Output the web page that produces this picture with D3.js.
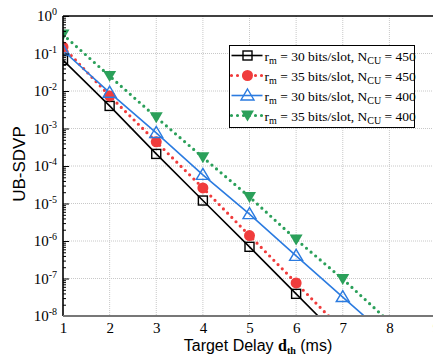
<!DOCTYPE html>
<html>
<head>
<meta charset="utf-8">
<script src="https://cdn.jsdelivr.net/npm/d3@7/dist/d3.min.js"></script>
<style>
  body { margin: 0; background: #fff; }
  svg { display: block; }
</style>
</head>
<body>
<div id="chart"></div>
<script>
// delays (ms)
const delays = [1, 2, 3, 4, 5, 6, 7, 8];

// UB-SDVP per configuration
const seriesA = [0.067, 4.0e-3, 2.1e-4, 1.2e-5, 7.0e-7, 3.9e-8];            // rm=30, NCU=450
const seriesB = [0.15, 7.4e-3, 4.4e-4, 2.6e-5, 1.4e-6, 7.6e-8];             // rm=35, NCU=450
const seriesC = [0.12, 9.0e-3, 7.6e-4, 5.8e-5, 5.2e-6, 4.0e-7, 3.2e-8];     // rm=30, NCU=400
const seriesD = [0.32, 0.025, 2.0e-3, 1.7e-4, 1.5e-5, 1.1e-6, 9.7e-8, 7.0e-9]; // rm=35, NCU=400

const xTicks = [1, 2, 3, 4, 5, 6, 7, 8, 9];
const yExponents = [0, -1, -2, -3, -4, -5, -6, -7, -8];

const legendRm = ['30', '35', '30', '35'];
const legendNcu = ['450', '450', '400', '400'];

const width = 433, height = 356;
const margin = { top: 16, right: -3, bottom: 40, left: 63 };
const innerW = width - margin.left - margin.right;
const innerH = height - margin.top - margin.bottom;

const svg = d3.select('#chart').append('svg')
  .attr('width', width)
  .attr('height', height);

const x = d3.scaleLinear().domain([1, 9]).range([0, innerW]);
const y = d3.scaleLog().domain([1e-8, 1]).range([innerH, 0]);

const g = svg.append('g')
  .attr('transform', 'translate(' + margin.left + ',' + margin.top + ')');

svg.append('defs').append('clipPath').attr('id', 'plotclip')
  .append('rect').attr('x', 0).attr('y', 0).attr('width', innerW).attr('height', innerH + 1);

// grid
g.selectAll('.gx').data(xTicks.slice(1)).enter().append('line')
  .attr('x1', d => x(d)).attr('x2', d => x(d))
  .attr('y1', 0).attr('y2', innerH)
  .attr('stroke', '#c8c8c8').attr('stroke-width', 1).attr('stroke-dasharray', '1,1');
g.selectAll('.gy').data(yExponents.slice(1, -1)).enter().append('line')
  .attr('x1', 0).attr('x2', innerW)
  .attr('y1', d => y(Math.pow(10, d))).attr('y2', d => y(Math.pow(10, d)))
  .attr('stroke', '#c8c8c8').attr('stroke-width', 1).attr('stroke-dasharray', '1,1');

const series = [
  { values: seriesA, color: '#000000', dash: null, width: 1.6, marker: 'square' },
  { values: seriesB, color: '#f03c3c', dash: '0,6', width: 3.2, marker: 'circle' },
  { values: seriesC, color: '#2b7be0', dash: null, width: 1.6, marker: 'tri' },
  { values: seriesD, color: '#2ba05a', dash: '0,6', width: 3.2, marker: 'itri' }
];

// extend each line by one step along its last slope so it reaches the bottom
function extended(vals) {
  const pts = vals.map((v, i) => [delays[i], v]);
  const n = pts.length;
  const r = pts[n - 1][1] / pts[n - 2][1];
  pts.push([pts[n - 1][0] + 1, pts[n - 1][1] * r]);
  return pts;
}

const plot = g.append('g').attr('clip-path', 'url(#plotclip)');

const line = d3.line().x(d => x(d[0])).y(d => y(d[1]));

series.forEach(s => {
  plot.append('path')
    .datum(extended(s.values))
    .attr('d', line)
    .attr('fill', 'none')
    .attr('stroke', s.color)
    .attr('stroke-width', s.width)
    .attr('stroke-linecap', s.dash ? 'round' : 'butt')
    .attr('stroke-dasharray', s.dash);
});

function drawMarker(sel, type, color, cx, cy) {
  if (type === 'square') {
    sel.append('rect').attr('x', cx - 4.5).attr('y', cy - 4.5).attr('width', 9).attr('height', 9)
      .attr('fill', 'none').attr('stroke', color).attr('stroke-width', 1.4);
  } else if (type === 'circle') {
    sel.append('circle').attr('cx', cx).attr('cy', cy).attr('r', 5.5).attr('fill', color);
  } else if (type === 'tri') {
    sel.append('path')
      .attr('d', 'M' + cx + ',' + (cy - 6.5) + 'L' + (cx + 6.5) + ',' + (cy + 4.5) + 'L' + (cx - 6.5) + ',' + (cy + 4.5) + 'Z')
      .attr('fill', 'none').attr('stroke', color).attr('stroke-width', 1.4);
  } else {
    sel.append('path')
      .attr('d', 'M' + (cx - 6.5) + ',' + (cy - 5) + 'L' + (cx + 6.5) + ',' + (cy - 5) + 'L' + cx + ',' + (cy + 6) + 'Z')
      .attr('fill', color);
  }
}

series.forEach(s => {
  s.values.forEach((v, i) => drawMarker(plot, s.marker, s.color, x(delays[i]), y(v)));
});

// y axis with inward ticks
const yAxis = d3.axisRight(y)
  .tickValues(d3.range(-8, 0).flatMap(e => d3.range(1, 10).map(k => k * Math.pow(10, e))).concat([1]))
  .tickSize(0)
  .tickFormat('');
const ya = g.append('g').call(yAxis);
ya.select('.domain').remove();
ya.selectAll('.tick line')
  .attr('x2', d => {
    const l = Math.log10(d);
    return Math.abs(l - Math.round(l)) < 1e-9 ? 6 : 3;
  })
  .attr('stroke', '#000').attr('stroke-width', 1);

// y tick labels 10^n
yExponents.forEach(e => {
  const t = g.append('text')
    .attr('x', -6).attr('y', y(Math.pow(10, e)) + 5)
    .attr('text-anchor', 'end')
    .attr('font-family', '"Liberation Serif", "Times New Roman", serif')
    .attr('font-size', 15)
    .attr('fill', '#000');
  t.append('tspan').text('10');
  t.append('tspan').attr('dy', -6).attr('font-size', 10).text(e);
});

// x axis labels
const xAxis = d3.axisBottom(x).tickValues(xTicks).tickSize(0).tickPadding(6);
const xa = g.append('g').attr('transform', 'translate(0,' + innerH + ')').call(xAxis);
xa.select('.domain').remove();
xa.selectAll('.tick text')
  .attr('font-family', '"Liberation Serif", "Times New Roman", serif')
  .attr('font-size', 15)
  .attr('fill', '#000');

// frame
g.append('line').attr('x1', 0).attr('x2', innerW).attr('y1', 0).attr('y2', 0)
  .attr('stroke', '#000').attr('stroke-width', 1.6);
g.append('line').attr('x1', 0).attr('x2', 0).attr('y1', 0).attr('y2', innerH)
  .attr('stroke', '#000').attr('stroke-width', 1.6);
g.append('line').attr('x1', 0).attr('x2', innerW).attr('y1', innerH).attr('y2', innerH)
  .attr('stroke', '#777').attr('stroke-width', 2.2);

// axis titles
svg.append('text')
  .attr('transform', 'translate(25,' + 164 + ') rotate(-90)')
  .attr('text-anchor', 'middle')
  .attr('font-family', '"Liberation Sans", Arial, sans-serif')
  .attr('font-size', 17)
  .text('UB-SDVP');

const xt = svg.append('text')
  .attr('x', 258).attr('y', 351)
  .attr('text-anchor', 'middle')
  .attr('font-family', '"Liberation Sans", Arial, sans-serif')
  .attr('font-size', 16);
xt.append('tspan').text('Target Delay ');
xt.append('tspan').attr('font-family', '"Liberation Serif", serif').attr('font-weight', 'bold').text('d');
xt.append('tspan').attr('font-family', '"Liberation Serif", serif').attr('font-weight', 'bold')
  .attr('font-size', 10).attr('dy', 3).text('th');
xt.append('tspan').attr('dy', -3).text(' (ms)');

// legend
const lg = svg.append('g').attr('transform', 'translate(229.5,45.5)');
lg.append('rect').attr('width', 185).attr('height', 82)
  .attr('fill', '#fff').attr('stroke', '#000').attr('stroke-width', 1);
series.forEach((s, i) => {
  const cy = 10 + i * 20;
  lg.append('line').attr('x1', 2).attr('x2', 33).attr('y1', cy).attr('y2', cy)
    .attr('stroke', s.color).attr('stroke-width', s.width)
    .attr('stroke-linecap', s.dash ? 'round' : 'butt')
    .attr('stroke-dasharray', s.dash);
  drawMarker(lg, s.marker, s.color, 18, cy);
  const t = lg.append('text').attr('x', 35).attr('y', cy + 5)
    .attr('font-family', '"Liberation Serif", "Times New Roman", serif')
    .attr('font-size', 13.5).attr('fill', '#000');
  t.append('tspan').text('r');
  t.append('tspan').attr('font-size', 10).attr('dy', 3).text('m');
  t.append('tspan').attr('dy', -3).text(' = ' + legendRm[i] + ' bits/slot, N');
  t.append('tspan').attr('font-size', 10).attr('dy', 3).text('CU');
  t.append('tspan').attr('dy', -3).text(' = ' + legendNcu[i]);
});
</script>
</body>
</html>
